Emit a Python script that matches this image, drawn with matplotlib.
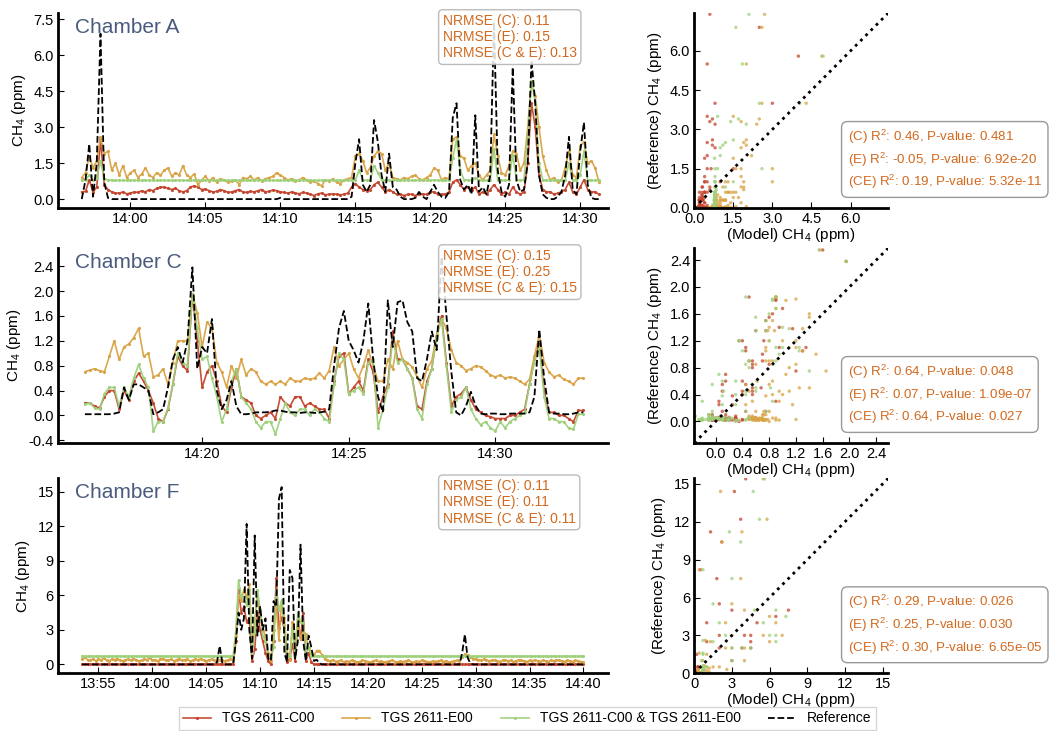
import numpy as np
import pandas as pd
import matplotlib
matplotlib.use('Agg')
import matplotlib.pyplot as plt
import matplotlib.dates as mdates
from matplotlib.ticker import MultipleLocator, FormatStrFormatter

plt.rcParams['font.family'] = ['Liberation Sans', 'DejaVu Sans']
plt.rcParams['mathtext.fontset'] = 'custom'
plt.rcParams['mathtext.rm'] = 'Liberation Sans'
plt.rcParams['mathtext.it'] = 'Liberation Sans:italic'

# ---------------- Chamber A (15 s steps from 13:56:45) ----------------
a_c00 = [0.30, 0.32, 0.80, 0.30, 0.50, 2.50, 0.60, 0.40, 0.30, 0.25,
         0.25, 0.30, 0.22, 0.25, 0.30, 0.28, 0.35, 0.30, 0.40, 0.35,
         0.45, 0.50, 0.50, 0.45, 0.40, 0.45, 0.35, 0.30, 0.35, 0.50,
         0.55, 0.50, 0.40, 0.42, 0.35, 0.30, 0.32, 0.40, 0.35, 0.28,
         0.30, 0.35, 0.40, 0.30, 0.28, 0.32, 0.30, 0.35, 0.40, 0.30,
         0.32, 0.38, 0.35, 0.30, 0.28, 0.25, 0.30, 0.25, 0.22, 0.28,
         0.25, 0.20, 0.15, 0.22, 0.25, 0.18, 0.20, 0.22, 0.20, 0.18,
         0.20, 0.25, 0.50, 0.65, 0.50, 0.40, 0.35, 0.40, 0.60, 0.70,
         0.50, 0.30, 0.40, 0.30, 0.20, 0.20, 0.15, 0.20, 0.20, 0.15,
         0.20, 0.20, 0.20, 0.30, 0.30, 0.20, 0.20, 0.20, 0.30, 0.70,
         0.80, 0.60, 0.40, 0.50, 0.40, 0.50, 0.20, 0.30, 0.20, 0.40,
         0.60, 0.40, 0.20, 0.30, 0.20, 0.50, 0.30, 0.20, 0.30, 1.50,
         4.00, 3.00, 1.00, 0.40, 0.30, 0.30, 0.20, 0.25, 0.30, 0.40,
         0.70, 0.30, 0.20, 0.50, 0.80, 0.40, 0.30, 0.30, 0.20]
a_e00 = [0.90, 1.10, 1.80, 1.30, 1.60, 2.60, 1.90, 2.00, 1.20, 1.50,
         1.00, 1.40, 0.90, 1.10, 1.20, 0.90, 1.05, 1.30, 1.00, 0.90,
         1.10, 1.00, 1.20, 1.30, 0.95, 1.10, 1.00, 1.40, 1.00, 0.90,
         1.05, 0.60, 0.80, 0.95, 0.75, 0.90, 0.70, 0.85, 0.80, 0.70,
         0.75, 0.80, 0.60, 0.90, 0.85, 0.95, 0.80, 0.90, 0.75, 0.85,
         0.90, 0.95, 1.10, 1.00, 0.90, 0.80, 0.85, 0.75, 0.80, 0.90,
         0.80, 0.70, 0.75, 0.65, 0.55, 0.80, 0.75, 0.85, 0.70, 0.65,
         0.80, 0.85, 0.90, 1.80, 1.90, 1.60, 1.10, 1.30, 1.80, 2.00,
         1.90, 1.20, 1.50, 0.90, 0.85, 0.80, 0.90, 0.85, 0.95, 1.00,
         0.85, 0.80, 0.90, 1.00, 1.30, 1.20, 0.80, 0.90, 0.85, 2.50,
         2.60, 1.80, 1.70, 1.20, 1.40, 1.50, 1.00, 0.80, 1.00, 1.20,
         2.70, 1.80, 1.10, 1.00, 1.40, 2.00, 1.90, 1.20, 1.50, 3.00,
         4.90, 4.30, 3.00, 1.80, 1.20, 0.80, 0.90, 0.70, 0.80, 1.30,
         2.00, 1.00, 0.90, 2.20, 2.40, 1.50, 1.60, 1.30, 0.70]
a_ce = [0.78, 0.80, 1.00, 0.78, 0.90, 1.60, 0.85, 0.80, 0.78, 0.78,
        0.78, 0.78, 0.78, 0.78, 0.78, 0.78, 0.78, 0.78, 0.78, 0.78,
        0.78, 0.78, 0.78, 0.78, 0.78, 0.78, 0.78, 0.78, 0.78, 0.78,
        0.78, 0.78, 0.78, 0.78, 0.78, 0.78, 0.78, 0.78, 0.78, 0.78,
        0.78, 0.78, 0.78, 0.78, 0.78, 0.78, 0.78, 0.78, 0.78, 0.78,
        0.78, 0.78, 0.78, 0.78, 0.78, 0.78, 0.78, 0.78, 0.78, 0.78,
        0.78, 0.78, 0.78, 0.78, 0.78, 0.78, 0.78, 0.78, 0.78, 0.78,
        0.78, 0.78, 0.78, 0.80, 1.20, 0.80, 0.78, 0.78, 1.40, 1.10,
        0.80, 0.78, 0.78, 0.78, 0.78, 0.78, 0.78, 0.78, 0.78, 0.78,
        0.78, 0.78, 0.78, 0.78, 0.80, 0.78, 0.78, 0.78, 0.78, 1.70,
        2.50, 1.20, 0.80, 0.80, 0.78, 0.90, 0.78, 0.78, 0.78, 0.80,
        2.10, 0.80, 0.78, 0.78, 0.80, 1.85, 0.80, 0.78, 0.80, 2.60,
        4.95, 4.05, 1.50, 0.80, 0.78, 0.78, 0.78, 0.78, 0.78, 0.80,
        1.50, 0.78, 0.78, 1.00, 2.00, 0.80, 0.78, 0.78, 0.78]
a_ref = [0.0, 0.8, 2.3, 0.1, 1.5, 6.9, 0.7, 0.05, 0.0, 0.0,
         0.0, 0.0, 0.0, 0.0, 0.0, 0.0, 0.0, 0.0, 0.0, 0.0,
         0.0, 0.0, 0.0, 0.0, 0.0, 0.0, 0.0, 0.0, 0.0, 0.0,
         0.0, 0.0, 0.0, 0.0, 0.0, 0.0, 0.0, 0.0, 0.0, 0.0,
         0.0, 0.0, 0.0, 0.0, 0.0, 0.0, 0.0, 0.0, 0.0, 0.0,
         0.0, 0.0, 0.0, 0.05, 0.0, 0.0, 0.0, 0.0, 0.0, 0.0,
         0.0, 0.0, 0.0, 0.0, 0.0, 0.0, 0.0, 0.0, 0.0, 0.0,
         0.0, 0.0, 0.1, 1.5, 2.5, 0.6, 0.3, 0.6, 3.3, 2.4,
         1.0, 0.3, 1.9, 0.5, 0.4, 0.1, 0.0, 0.0, 0.0, 0.05,
         0.3, 0.1, 0.0, 0.3, 0.6, 0.3, 0.1, 0.05, 0.3, 3.4,
         4.0, 0.8, 0.4, 0.6, 0.2, 3.5, 0.3, 0.5, 0.2, 1.0,
         7.4, 1.2, 0.3, 0.1, 0.6, 5.5, 0.8, 0.3, 0.4, 1.5,
         5.8, 4.0, 1.0, 0.2, 0.05, 0.0, 0.0, 0.1, 0.3, 1.0,
         2.6, 0.4, 0.2, 2.0, 3.2, 0.6, 0.05, 0.0, 0.0]

# ---------------- Chamber C (10 s steps from 14:16:00) ----------------
c_c00 = [0.20, 0.20, 0.15, 0.12, 0.30, 0.40, 0.40, 0.10, 0.40, 0.25,
         0.55, 0.68, 0.55, 0.40, 0.20, -0.05, -0.10, 0.10, 0.50, 0.95,
         0.80, 0.72, 1.95, 1.20, 0.45, 0.70, 0.80, 0.55, 0.15, 0.05,
         0.45, 0.75, 0.30, 0.25, 0.20, 0.00, -0.05, 0.00, 0.05, -0.05,
         0.30, 0.20, 0.15, 0.30, 0.30, 0.15, 0.20, 0.15, 0.10, 0.10,
         -0.05, 0.55, 0.95, 1.00, 0.35, 0.45, 0.55, 0.40, 0.90, 0.70,
         0.05, 0.30, 0.50, 1.35, 0.90, 0.90, 0.75, 0.60, 0.15, 0.10,
         0.55, 0.75, 1.30, 1.60, 0.85, 0.15, 0.30, 0.35, 0.45, 0.25,
         0.10, 0.05, 0.00, -0.02, -0.05, -0.05, -0.05, 0.00, 0.00, 0.05,
         0.10, 0.50, 0.90, 1.15, 0.40, 0.05, 0.05, 0.00, 0.00, -0.05,
         -0.10, 0.08, 0.08]
c_e00 = [0.70, 0.73, 0.75, 0.72, 0.70, 0.95, 1.20, 0.90, 1.10, 1.15,
         1.25, 1.40, 0.95, 1.00, 0.62, 0.65, 0.75, 0.50, 0.85, 1.20,
         1.20, 1.20, 1.95, 1.65, 1.10, 1.50, 1.40, 0.85, 0.70, 0.45,
         0.80, 0.60, 0.90, 0.65, 0.75, 0.70, 0.55, 0.50, 0.55, 0.50,
         0.55, 0.50, 0.60, 0.55, 0.55, 0.60, 0.58, 0.60, 0.68, 0.60,
         0.72, 1.10, 0.80, 0.90, 1.00, 0.75, 0.60, 0.80, 1.05, 0.80,
         0.55, 0.55, 0.90, 0.75, 1.20, 0.90, 0.85, 0.78, 0.62, 0.45,
         0.75, 0.88, 1.30, 1.55, 1.40, 1.05, 0.85, 0.80, 0.72, 0.75,
         0.80, 0.78, 0.72, 0.65, 0.62, 0.65, 0.60, 0.62, 0.60, 0.55,
         0.50, 0.58, 0.95, 1.30, 0.85, 0.70, 0.62, 0.65, 0.58, 0.55,
         0.50, 0.60, 0.60]
c_ce = [0.18, 0.20, 0.12, 0.10, 0.35, 0.45, 0.45, 0.15, 0.45, 0.30,
        0.60, 0.82, 0.60, 0.45, -0.25, -0.10, -0.10, 0.12, 0.50, 1.00,
        0.85, 0.80, 1.95, 1.40, 0.90, 0.95, 0.60, 0.30, -0.10, 0.10,
        0.55, 0.75, 0.30, 0.20, 0.10, -0.10, -0.20, -0.10, -0.10, -0.30,
        -0.05, 0.20, 0.05, 0.00, 0.10, 0.10, 0.00, 0.10, 0.05, -0.05,
        -0.10, 0.50, 1.00, 0.90, 0.35, 0.40, 0.45, 0.35, 0.85, 0.90,
        -0.20, 0.10, 0.45, 1.25, 0.85, 0.90, 0.75, 0.60, 0.10, -0.05,
        0.50, 0.75, 1.25, 1.55, 0.80, 0.05, 0.25, 0.30, 0.45, 0.10,
        -0.05, -0.15, -0.10, -0.20, -0.25, -0.10, -0.20, -0.10, -0.05, 0.00,
        0.05, 0.50, 0.85, 1.10, 0.30, -0.05, -0.05, -0.10, -0.10, -0.20,
        -0.22, 0.02, 0.02]
c_ref = [0.02, 0.02, 0.02, 0.02, 0.02, 0.02, 0.03, 0.05, 0.45, 0.25,
         0.50, 0.50, 0.45, 0.40, 0.02, 0.05, 0.10, 0.45, 0.90, 1.10,
         0.85, 1.20, 2.38, 0.75, 1.10, 1.00, 1.55, 0.40, 0.10, 0.25,
         0.55, 0.15, 0.02, 0.02, 0.03, 0.05, 0.05, 0.05, 0.06, 0.08,
         0.08, 0.06, 0.05, 0.05, 0.04, 0.05, 0.05, 0.04, 0.05, 0.06,
         0.10, 0.80, 1.40, 1.68, 1.20, 1.05, 0.85, 1.20, 1.80, 0.90,
         0.30, 0.05, 1.85, 1.10, 1.82, 1.85, 1.50, 1.35, 0.60, 0.55,
         0.90, 1.35, 1.05, 2.55, 1.60, 0.70, 0.05, 0.00, 0.15, 0.38,
         0.15, 0.03, 0.02, 0.03, 0.03, 0.02, 0.02, 0.03, 0.03, 0.03,
         0.03, 0.05, 0.30, 1.38, 0.60, 0.05, 0.03, 0.03, 0.02, 0.02,
         0.03, 0.05, 0.05]

# ---------------- Chamber F (15 s steps from 13:53:30) ----------------
f_c00 = [0.0, 0.0, 0.0, 0.0, 0.0, 0.0, 0.0, 0.0, 0.0, 0.0,
         0.0, 0.0, 0.0, 0.0, 0.0, 0.0, 0.0, 0.0, 0.0, 0.0,
         0.0, 0.0, 0.0, 0.0, 0.0, 0.0, 0.0, 0.0, 0.0, 0.0,
         0.0, 0.0, 0.0, 0.0, 0.0, 0.0, 0.0, 0.0, 0.0, 0.0,
         0.0, 0.0, 0.0, 0.0, 0.0, 0.0, 0.0, 0.0, 0.0, 0.0,
         0.0, 0.0, 0.0, 0.0, 0.0, 0.0,
         0.0, 2.0, 6.5, 4.5, 5.0, 3.7, 4.0, 0.3, 1.3, 4.5,
         3.0, 2.0, 1.0, 0.3, 0.0, 2.0, 7.5, 3.2, 4.1, 3.0,
         0.2, 0.5, 1.8, 0.3, 3.8, 2.2, 4.5, 0.3, 1.0, 0.2,
         0.0, 0.0, 0.0, 0.0, 0.0,
         0.0, 0.0, 0.0, 0.0, 0.0, 0.0, 0.0, 0.0, 0.0, 0.0,
         0.0, 0.0, 0.0, 0.0, 0.0, 0.0, 0.0, 0.0, 0.0, 0.0,
         0.0, 0.0, 0.0, 0.0, 0.0, 0.0, 0.0, 0.0, 0.0, 0.0,
         0.0, 0.0, 0.0, 0.0, 0.0, 0.0, 0.0, 0.0, 0.0, 0.0,
         0.0, 0.0, 0.0, 0.0, 0.0, 0.0, 0.0, 0.0, 0.0, 0.0,
         0.0, 0.0, 0.0, 0.0, 0.0, 0.0, 0.0, 0.0, 0.0, 0.0,
         0.0, 0.0, 0.0, 0.0, 0.0, 0.0, 0.0, 0.0, 0.0, 0.0,
         0.0, 0.0, 0.0, 0.0, 0.0, 0.0, 0.0, 0.0, 0.0, 0.0,
         0.0, 0.0, 0.0, 0.0, 0.0, 0.0, 0.0, 0.0, 0.0, 0.0,
         0.0, 0.0, 0.0, 0.0, 0.0, 0.0]
f_e00 = [0.45, 0.60, 0.40, 0.35, 0.50, 0.30, 0.45, 0.40, 0.55, 0.35,
         0.30, 0.45, 0.40, 0.50, 0.35, 0.30, 0.40, 0.45, 0.35, 0.50,
         0.40, 0.30, 0.35, 0.45, 0.40, 0.55, 0.35, 0.40, 0.30, 0.45,
         0.50, 0.40, 0.35, 0.45, 0.30, 0.40, 0.50, 0.35, 0.40, 0.45,
         0.30, 0.35, 0.45, 0.40, 0.50, 0.35, 0.30, 0.40, 0.45, 0.35,
         0.30, 0.40, 0.35, 0.30, 0.40, 0.45,
         0.4, 2.5, 6.0, 5.5, 6.5, 5.8, 7.0, 2.0, 3.8, 6.0,
         4.0, 3.0, 2.5, 1.0, 0.3, 3.0, 5.0, 2.1, 5.5, 4.0,
         1.0, 0.4, 3.7, 1.5, 4.0, 2.2, 3.0, 2.6, 1.3, 1.0,
         0.8, 1.2, 1.2, 0.8, 0.5,
         0.35, 0.30, 0.40, 0.25, 0.30, 0.35, 0.20, 0.30, 0.25, 0.35,
         0.30, 0.20, 0.25, 0.35, 0.30, 0.25, 0.20, 0.30, 0.35, 0.25,
         0.30, 0.20, 0.25, 0.30, 0.35, 0.25, 0.20, 0.30, 0.25, 0.30,
         0.35, 0.25, 0.20, 0.30, 0.25, 0.35, 0.30, 0.25, 0.20, 0.30,
         0.25, 0.30, 0.35, 0.25, 0.30, 0.20, 0.25, 0.30, 0.35, 0.30,
         0.60, 0.90, 0.80, 0.60, 0.50, 0.45, 0.40, 0.35, 0.45, 0.40,
         0.30, 0.35, 0.40, 0.30, 0.25, 0.35, 0.40, 0.30, 0.35, 0.25,
         0.30, 0.40, 0.35, 0.30, 0.25, 0.35, 0.30, 0.40, 0.30, 0.25,
         0.35, 0.30, 0.25, 0.35, 0.30, 0.40, 0.35, 0.30, 0.25, 0.35,
         0.30, 0.25, 0.35, 0.30, 0.25, 0.20]
f_ce = [0.70, 0.70, 0.70, 0.70, 0.70, 0.70, 0.70, 0.70, 0.70, 0.70,
        0.70, 0.70, 0.70, 0.70, 0.70, 0.70, 0.70, 0.70, 0.70, 0.70,
        0.70, 0.70, 0.70, 0.70, 0.70, 0.70, 0.70, 0.70, 0.70, 0.70,
        0.70, 0.70, 0.70, 0.70, 0.70, 0.70, 0.70, 0.70, 0.70, 0.70,
        0.70, 0.70, 0.70, 0.70, 0.70, 0.70, 0.70, 0.70, 0.70, 0.70,
        0.70, 0.70, 0.70, 0.70, 0.70, 0.70,
        0.7, 3.0, 7.3, 6.0, 5.5, 5.2, 6.5, 1.0, 2.8, 6.5,
        4.8, 2.5, 2.0, 0.7, 0.7, 1.5, 6.5, 4.7, 5.6, 3.0,
        0.7, 0.7, 3.0, 0.7, 4.5, 3.7, 3.8, 0.7, 1.5, 0.7,
        0.7, 0.7, 0.7, 0.7, 0.7,
        0.70, 0.70, 0.70, 0.70, 0.70, 0.70, 0.70, 0.70, 0.70, 0.70,
        0.70, 0.70, 0.70, 0.70, 0.70, 0.70, 0.70, 0.70, 0.70, 0.70,
        0.70, 0.70, 0.70, 0.70, 0.70, 0.70, 0.70, 0.70, 0.70, 0.70,
        0.70, 0.70, 0.70, 0.70, 0.70, 0.70, 0.70, 0.70, 0.70, 0.70,
        0.70, 0.70, 0.70, 0.70, 0.70, 0.70, 0.70, 0.70, 0.70, 0.70,
        0.70, 0.70, 0.70, 0.70, 0.70, 0.70, 0.70, 0.70, 0.70, 0.70,
        0.70, 0.70, 0.70, 0.70, 0.70, 0.70, 0.70, 0.70, 0.70, 0.70,
        0.70, 0.70, 0.70, 0.70, 0.70, 0.70, 0.70, 0.70, 0.70, 0.70,
        0.70, 0.70, 0.70, 0.70, 0.70, 0.70, 0.70, 0.70, 0.70, 0.70,
        0.70, 0.70, 0.70, 0.70, 0.70, 0.70]
f_ref = [0.0, 0.0, 0.0, 0.0, 0.0, 0.0, 0.0, 0.0, 0.0, 0.0,
         0.0, 0.0, 0.0, 0.0, 0.0, 0.0, 0.0, 0.0, 0.0, 0.0,
         0.0, 0.0, 0.0, 0.0, 0.0, 0.0, 0.0, 0.0, 0.0, 0.0,
         0.0, 0.0, 0.0, 0.0, 0.0, 0.0, 0.0, 0.0, 0.0, 0.0,
         0.0, 0.0, 0.0, 0.0, 0.0, 0.0, 0.0, 0.0, 0.0, 0.0,
         0.2, 1.6, 0.1, 0.0, 0.0, 0.0,
         0.0, 2.0, 4.5, 3.0, 4.0, 12.2, 3.0, 0.5, 11.2, 2.5,
         5.0, 3.0, 4.0, 0.5, 0.3, 5.5, 5.0, 14.4, 15.4, 1.0,
         0.2, 8.2, 7.5, 0.5, 2.0, 10.4, 2.0, 0.3, 2.5, 1.5,
         0.3, 0.4, 0.1, 0.0, 0.0,
         0.0, 0.0, 0.0, 0.0, 0.0, 0.0, 0.0, 0.0, 0.0, 0.0,
         0.0, 0.0, 0.0, 0.0, 0.0, 0.0, 0.0, 0.0, 0.0, 0.0,
         0.0, 0.0, 0.0, 0.0, 0.0, 0.0, 0.0, 0.0, 0.0, 0.0,
         0.0, 0.0, 0.0, 0.0, 0.0, 0.0, 0.0, 0.0, 0.0, 0.0,
         0.0, 0.0, 0.0, 0.0, 0.0, 0.0, 0.0, 0.0, 0.0, 0.0,
         1.0, 2.6, 0.6, 0.1,
         0.0, 0.0, 0.0, 0.0, 0.0, 0.0, 0.0, 0.0, 0.0, 0.0,
         0.0, 0.0, 0.0, 0.0, 0.0, 0.0, 0.0, 0.0, 0.0, 0.0,
         0.0, 0.0, 0.0, 0.0, 0.0, 0.0, 0.0, 0.0, 0.0, 0.0,
         0.0, 0.0, 0.0, 0.0, 0.0, 0.0, 0.0, 0.0, 0.0, 0.0,
         0.0, 0.0]

chambers = ['Chamber A', 'Chamber C', 'Chamber F']
starts = ['2023-01-01 13:56:45', '2023-01-01 14:16:00', '2023-01-01 13:53:30']
steps = ['15s', '10s', '15s']
xlims = [('2023-01-01 13:55:10', '2023-01-01 14:31:50'),
         ('2023-01-01 14:15:05', '2023-01-01 14:33:50'),
         ('2023-01-01 13:51:15', '2023-01-01 14:42:15')]
nrmse = [(0.11, 0.15, 0.13), (0.15, 0.25, 0.15), (0.11, 0.11, 0.11)]
r2 = [(0.46, -0.05, 0.19), (0.64, 0.07, 0.64), (0.29, 0.25, 0.30)]
pval = [('0.481', '6.92e-20', '5.32e-11'), ('0.048', '1.09e-07', '0.027'),
        ('0.026', '0.030', '6.65e-05')]
labels = ['TGS 2611-C00', 'TGS 2611-E00', 'TGS 2611-C00 & TGS 2611-E00', 'Reference']

series = [(a_c00, a_e00, a_ce, a_ref), (c_c00, c_e00, c_ce, c_ref), (f_c00, f_e00, f_ce, f_ref)]
colors = ['#c4452d', '#d9a345', '#9ed07a']
txt_color = '#d2691e'

ystep = [1.5, 0.4, 3]
yfmt = ['%.1f', '%.1f', '%d']
slims = [(0, 7.45), (-0.32, 2.58), (0, 15.45)]

fig = plt.figure(figsize=(10.55, 7.31), dpi=100)
bottoms = [0.7155, 0.394, 0.0790]
h = 0.2668

handles = []
for k in range(3):
    ax = fig.add_axes([0.055, bottoms[k], 0.521, h])
    axs = fig.add_axes([0.658, bottoms[k], 0.184, h])
    c00, e00, ce, ref = series[k]
    t = pd.date_range(starts[k], periods=len(ref), freq=steps[k]).to_numpy()

    l1, = ax.plot(t, c00, color=colors[0], lw=1.2, marker='.', ms=2.5, alpha=0.95)
    l2, = ax.plot(t, e00, color=colors[1], lw=1.2, marker='.', ms=2.5, alpha=0.95)
    l3, = ax.plot(t, ce, color=colors[2], lw=1.2, marker='.', ms=2.5, alpha=0.95)
    l4, = ax.plot(t, ref, color='black', lw=1.3, ls='--')
    if k == 0:
        handles = [l1, l2, l3, l4]
    ax.set_xlim(pd.Timestamp(xlims[k][0]), pd.Timestamp(xlims[k][1]))

    ax.xaxis.set_major_locator(mdates.MinuteLocator(byminute=range(0, 60, 5)))
    ax.xaxis.set_major_formatter(mdates.DateFormatter('%H:%M'))
    ax.yaxis.set_major_locator(MultipleLocator(ystep[k]))
    ax.yaxis.set_major_formatter(FormatStrFormatter(yfmt[k]))
    ax.set_ylabel('CH$_4$ (ppm)', fontsize=11)
    ax.text(0.03, 0.975, chambers[k], transform=ax.transAxes, fontsize=15,
            color='#4a5b7e', va='top', ha='left')
    n = nrmse[k]
    ax.text(0.70, 0.995, 'NRMSE (C): %.2f\nNRMSE (E): %.2f\nNRMSE (C & E): %.2f' % n,
            transform=ax.transAxes, fontsize=10, color=txt_color, va='top', ha='left',
            linespacing=1.2, zorder=5,
            bbox=dict(boxstyle='round,pad=0.3', fc='white', ec='#b0b0b0', alpha=0.85))

    # scatter: model vs reference
    for vals, col in zip([c00, e00, ce], colors):
        axs.scatter(vals, ref, s=6, color=col, alpha=0.75, edgecolors='none')
    lo, hi = slims[k]
    axs.plot([lo, hi], [lo, hi], color='black', ls=':', lw=2)
    axs.set_xlim(lo, hi)
    axs.set_ylim(lo, hi)
    axs.xaxis.set_major_locator(MultipleLocator(ystep[k]))
    axs.yaxis.set_major_locator(MultipleLocator(ystep[k]))
    axs.xaxis.set_major_formatter(FormatStrFormatter(yfmt[k]))
    axs.yaxis.set_major_formatter(FormatStrFormatter(yfmt[k]))
    axs.set_xlabel('(Model) CH$_4$ (ppm)', fontsize=11, labelpad=0)
    axs.set_ylabel('(Reference) CH$_4$ (ppm)', fontsize=11)
    r, p = r2[k], pval[k]
    stat = ('(C) R$^2$: %.2f, P-value: %s\n(E) R$^2$: %.2f, P-value: %s\n'
            '(CE) R$^2$: %.2f, P-value: %s' % (r[0], p[0], r[1], p[1], r[2], p[2]))
    axs.text(0.79, 0.085, stat, transform=axs.transAxes, fontsize=9.6, color=txt_color,
             va='bottom', ha='left', linespacing=1.35, clip_on=False,
             bbox=dict(boxstyle='round,pad=0.45', fc='white', ec='#999999'))

    for a in (ax, axs):
        a.spines['top'].set_visible(False)
        a.spines['right'].set_visible(False)
        a.spines['left'].set_linewidth(2)
        a.spines['bottom'].set_linewidth(2)
        a.tick_params(direction='in', length=4, width=0.8, labelsize=10.5, pad=3)

fig.legend(handles, labels, loc='lower center', bbox_to_anchor=(0.5, 0.0), ncol=4,
           fontsize=10, frameon=True, edgecolor='#cccccc', fancybox=False,
           borderpad=0.3, borderaxespad=0.1)

fig.savefig('out.png', dpi=100)
